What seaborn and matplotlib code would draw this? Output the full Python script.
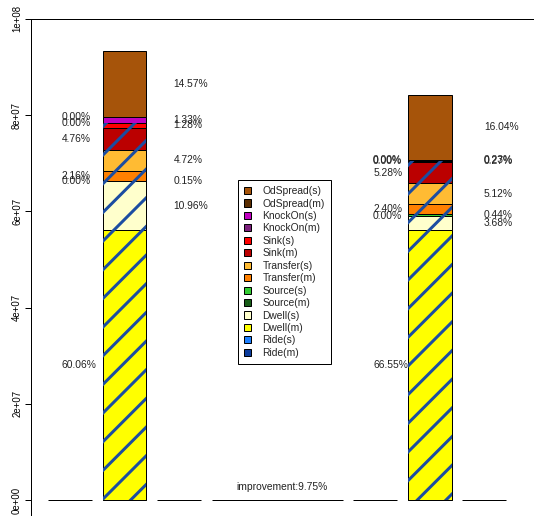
import numpy as np
import pandas as pd
import matplotlib
matplotlib.use("Agg")
import matplotlib.pyplot as plt
from matplotlib.patches import Patch
import seaborn as sns

# the figure is drawn at a high dpi so the hatch spacing comes out like the original
DPI = 172
PT = 72 / DPI  # points per pixel

# stacking order, bottom to top
components = ["Ride(m)", "Ride(s)", "Dwell(m)", "Dwell(s)", "Source(m)", "Source(s)",
              "Transfer(m)", "Transfer(s)", "Sink(m)", "Sink(s)",
              "KnockOn(m)", "KnockOn(s)", "OdSpread(m)", "OdSpread(s)"]
colors = ["#0B3C9C", "#1E80FF", "#FFFF00", "#FFFFCC", "#175C17", "#33CC33",
          "#FF8000", "#FFBB33", "#BB0000", "#FF0000",
          "#7B1E7B", "#C000C0", "#5A2D00", "#A6540A"]

# share of each component (%) for the two scenarios
pct_before = [0.00, 0.00, 60.06, 10.96, 0.00, 0.15, 2.16, 4.72, 4.76, 1.28, 0.00, 1.33, 0.00, 14.57]
pct_after = [0.00, 0.00, 66.55, 3.68, 0.00, 0.44, 2.40, 5.12, 5.28, 0.27, 0.00, 0.23, 0.00, 16.04]
totals = [93.3e6, 84.2e6]
improvement = 9.75

# bar slots of the barplot (width 1 except the middle one)
slot_pos = [0.75, 2.0, 3.25, 5.5, 7.75, 9.0, 10.25]
slot_width = [1, 1, 1, 3, 1, 1, 1]
data_slots = [2.0, 9.0]
# label x offsets from the bar centre: (m) labels on the left, (s) on the right
label_offsets = [(-1.44, 1.12), (-1.30, 1.24)]

ytick_vals = [0, 2e7, 4e7, 6e7, 8e7, 1e8]
hatch_col = "#1C4DA1"

sns.set_style("white")
plt.rcParams["font.family"] = ["Liberation Sans", "DejaVu Sans"]
plt.rcParams["hatch.linewidth"] = 3.0 * PT
FS = 10.2 * PT

# long-form table of segment heights
rows = []
for pos, pct, tot in zip(data_slots, [pct_before, pct_after], totals):
    for comp, p in zip(components, pct):
        rows.append({"pos": pos, "component": comp, "pct": p, "value": tot * p / 100})
df = pd.DataFrame(rows)

fig = plt.figure(figsize=(534 / DPI, 516 / DPI), dpi=DPI)
ax = fig.add_axes([30.5 / 534, 0, 1 - 30.5 / 534, 1 - 19 / 516])

# empty slots show only as outlines at zero
empty = [(p, w) for p, w in zip(slot_pos, slot_width) if p not in data_slots]
ax.bar([p for p, w in empty], [0] * len(empty), width=[w for p, w in empty],
       facecolor="none", edgecolor="black", linewidth=PT)

bottom = np.zeros(len(data_slots))
hatch_top = None
for comp, col in zip(components, colors):
    sub = df[df.component == comp].sort_values("pos")
    vals = sub["value"].to_numpy()
    sns.barplot(x=sub["pos"].to_numpy(), y=vals, native_scale=True, width=1 / 7,
                color=col, saturation=1, edgecolor="black", linewidth=PT,
                bottom=bottom.copy(), errorbar=None, ax=ax)
    # text labels at the middle of each segment
    if not comp.startswith("Ride"):
        for i, (pos, v, p) in enumerate(zip(sub["pos"], vals, sub["pct"])):
            off = label_offsets[i][0] if comp.endswith("(m)") else label_offsets[i][1]
            ax.text(pos + off, bottom[i] + v / 2, f"{p:.2f}%", ha="left", va="center",
                    fontsize=FS, color="#222222")
    bottom = bottom + vals
    if comp == "Sink(s)":
        hatch_top = bottom.copy()

# hatched overlay over everything up to the sink segments
sns.barplot(x=data_slots, y=hatch_top, native_scale=True, width=1 / 7, fill=False,
            color=hatch_col, hatch="//", linewidth=0, errorbar=None, ax=ax)

ax.text(np.mean(data_slots) + 0.12, 2.77e6, f"improvement:{improvement:.2f}%",
        ha="center", va="center", fontsize=FS, color="#222222")

handles = [Patch(facecolor=c, edgecolor="black", linewidth=PT, label=n)
           for n, c in zip(components[::-1], colors[::-1])]
leg = ax.legend(handles=handles, loc="upper left",
                bbox_to_anchor=(238 / 534, 1 - 180 / 516), bbox_transform=fig.transFigure,
                fontsize=FS, handlelength=0.69, handleheight=0.69, handletextpad=1.1,
                borderpad=0.6, labelspacing=0.24, borderaxespad=0,
                fancybox=False, framealpha=1, edgecolor="black")
leg.get_frame().set_linewidth(PT)

ax.set_xlim(-0.158, 11.39)
ax.set_ylim(-16 / 481 * 1e8, 1e8)
ax.set_xticks([])
ax.set_yticks(ytick_vals)
ax.set_yticklabels([f"{v:.0e}" for v in ytick_vals], rotation=90, va="center")
ax.tick_params(axis="y", length=5.7 * PT, width=PT, pad=2.7 * PT, labelsize=9.6 * PT,
               colors="black", left=True)
ax.set_xlabel("")
ax.set_ylabel("")
for side in ["bottom", "right"]:
    ax.spines[side].set_visible(False)
for side in ["left", "top"]:
    ax.spines[side].set_color("black")
    ax.spines[side].set_linewidth(PT)

fig.savefig("out.png", dpi=DPI)
